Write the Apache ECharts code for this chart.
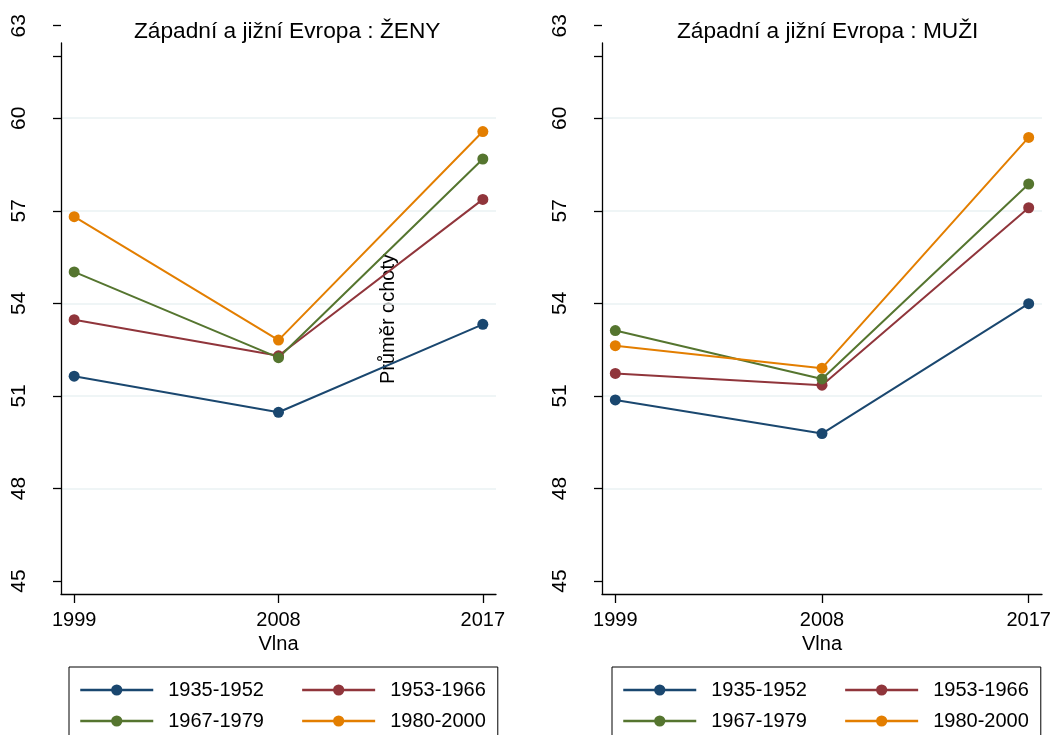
<!DOCTYPE html>
<html>
<head>
<meta charset="utf-8">
<script src="https://cdn.jsdelivr.net/npm/echarts@6/dist/echarts.min.js"></script>
<style>
  html, body { margin: 0; padding: 0; background: #fff; }
  #chart { width: 1055px; height: 735px; }
</style>
</head>
<body>
<div id="chart"></div>
<script>
var waves = [1999, 2008, 2017];
var cohorts = ['1935-1952', '1953-1966', '1967-1979', '1980-2000'];
var yTicks = [45, 48, 51, 54, 57, 60, 63];

// Ženy
var zeny1935 = [51.64, 50.47, 53.32];
var zeny1953 = [53.47, 52.30, 57.37];
var zeny1967 = [55.02, 52.24, 58.68];
var zeny1980 = [56.81, 52.81, 59.57];

// Muži
var muzi1935 = [50.87, 49.78, 53.99];
var muzi1953 = [51.73, 51.35, 57.10];
var muzi1967 = [53.12, 51.55, 57.87];
var muzi1980 = [52.63, 51.90, 59.38];

var colorList = ['#1a476f', '#90353b', '#55752f', '#e37e00'];
var font = 'Liberation Sans, Arial, sans-serif';

var myChart = echarts.init(document.getElementById('chart'));

function pairs(vals) {
    var out = [];
    for (var i = 0; i < waves.length; i++) {
        out.push([waves[i], vals[i]]);
    }
    return out;
}

function makeSeries(list, axisIndex) {
    var res = [];
    for (var i = 0; i < list.length; i++) {
        res.push({
            name: cohorts[i],
            type: 'line',
            xAxisIndex: axisIndex,
            yAxisIndex: axisIndex,
            data: pairs(list[i]),
            symbol: 'circle',
            symbolSize: 11,
            lineStyle: { width: 2, color: colorList[i] },
            itemStyle: { color: colorList[i] },
            emphasis: { disabled: true }
        });
    }
    return res;
}

// grid "A" carries tick labels / gridlines, grid "B" carries the data and the axis lines
function labelY(gridIndex) {
    return {
        type: 'value', gridIndex: gridIndex, min: yTicks[0], max: yTicks[yTicks.length - 1], interval: 3,
        axisLine: { show: false },
        axisTick: { show: true, length: 8, lineStyle: { color: '#000', width: 1.3 } },
        axisLabel: { rotate: 90, fontSize: 21, color: '#000', fontFamily: font, margin: 31 },
        splitLine: { show: true, showMinLine: false, showMaxLine: false, lineStyle: { color: '#eaf2f3', width: 1.5 } }
    };
}
function dataY(gridIndex) {
    return {
        type: 'value', gridIndex: gridIndex, min: 44.58, max: 62.44,
        axisLine: { show: true, lineStyle: { color: '#000', width: 1.3 } },
        axisTick: { show: true, length: 8, customValues: [62], lineStyle: { color: '#000', width: 1.3 } },
        axisLabel: { show: false },
        splitLine: { show: false }
    };
}
function hiddenX(gridIndex) {
    return { type: 'value', gridIndex: gridIndex, min: 1998.42, max: 2017.58, show: false };
}
function dataX(gridIndex) {
    return {
        type: 'value', gridIndex: gridIndex, min: 1998.42, max: 2017.58,
        name: 'Vlna', nameLocation: 'middle', nameGap: 40,
        nameTextStyle: { fontSize: 20, color: '#000', fontFamily: font },
        axisLine: { show: true, onZero: false, lineStyle: { color: '#000', width: 1.3 } },
        axisTick: { show: true, length: 9, customValues: waves, lineStyle: { color: '#000', width: 1.3 } },
        axisLabel: {
            customValues: waves, fontSize: 20, color: '#000', fontFamily: font, margin: 16,
            formatter: function (v) { return String(v); }
        },
        splitLine: { show: false }
    };
}
function legendFor(left) {
    var items = [];
    for (var i = 0; i < cohorts.length; i++) {
        items.push({
            name: cohorts[i],
            textStyle: { padding: i % 2 === 0 ? [0, 37, 0, 10] : [0, 0, 0, 10] }
        });
    }
    return {
        left: left, top: 667, width: 410,
        data: items,
        itemWidth: 73, itemHeight: 14, itemGap: 0,
        padding: [7.5, 12, 10, 10],
        borderColor: '#000', borderWidth: 1,
        lineStyle: { width: 2.5 },
        textStyle: { fontSize: 20, color: '#000', fontFamily: font, lineHeight: 31 },
        selectedMode: false
    };
}

var option = {
    animation: false,
    backgroundColor: '#fff',
    title: [
        { text: 'Západní a jižní Evropa : ŽENY', left: 129, top: 15,
          textStyle: { fontSize: 22.7, fontWeight: 'normal', color: '#000', fontFamily: font } },
        { text: 'Západní a jižní Evropa : MUŽI', left: 672, top: 15,
          textStyle: { fontSize: 22.7, fontWeight: 'normal', color: '#000', fontFamily: font } }
    ],
    legend: [legendFor(69), legendFor(612)],
    grid: [
        { left: 61, width: 435, top: 25.7, height: 555.3 },
        { left: 61, width: 435, top: 43, height: 551 },
        { left: 602, width: 440, top: 25.7, height: 555.3 },
        { left: 602, width: 440, top: 43, height: 551 }
    ],
    xAxis: [hiddenX(0), dataX(1), hiddenX(2), dataX(3)],
    yAxis: [labelY(0), dataY(1), labelY(2), dataY(3)],
    graphic: [{
        type: 'text', x: 388, y: 319, rotation: Math.PI / 2,
        style: { text: 'Průměr ochoty', fontSize: 20, fill: '#000', fontFamily: font,
                 align: 'center', verticalAlign: 'middle' }
    }],
    series: makeSeries([zeny1935, zeny1953, zeny1967, zeny1980], 1)
        .concat(makeSeries([muzi1935, muzi1953, muzi1967, muzi1980], 3))
};

myChart.setOption(option);
</script>
</body>
</html>
